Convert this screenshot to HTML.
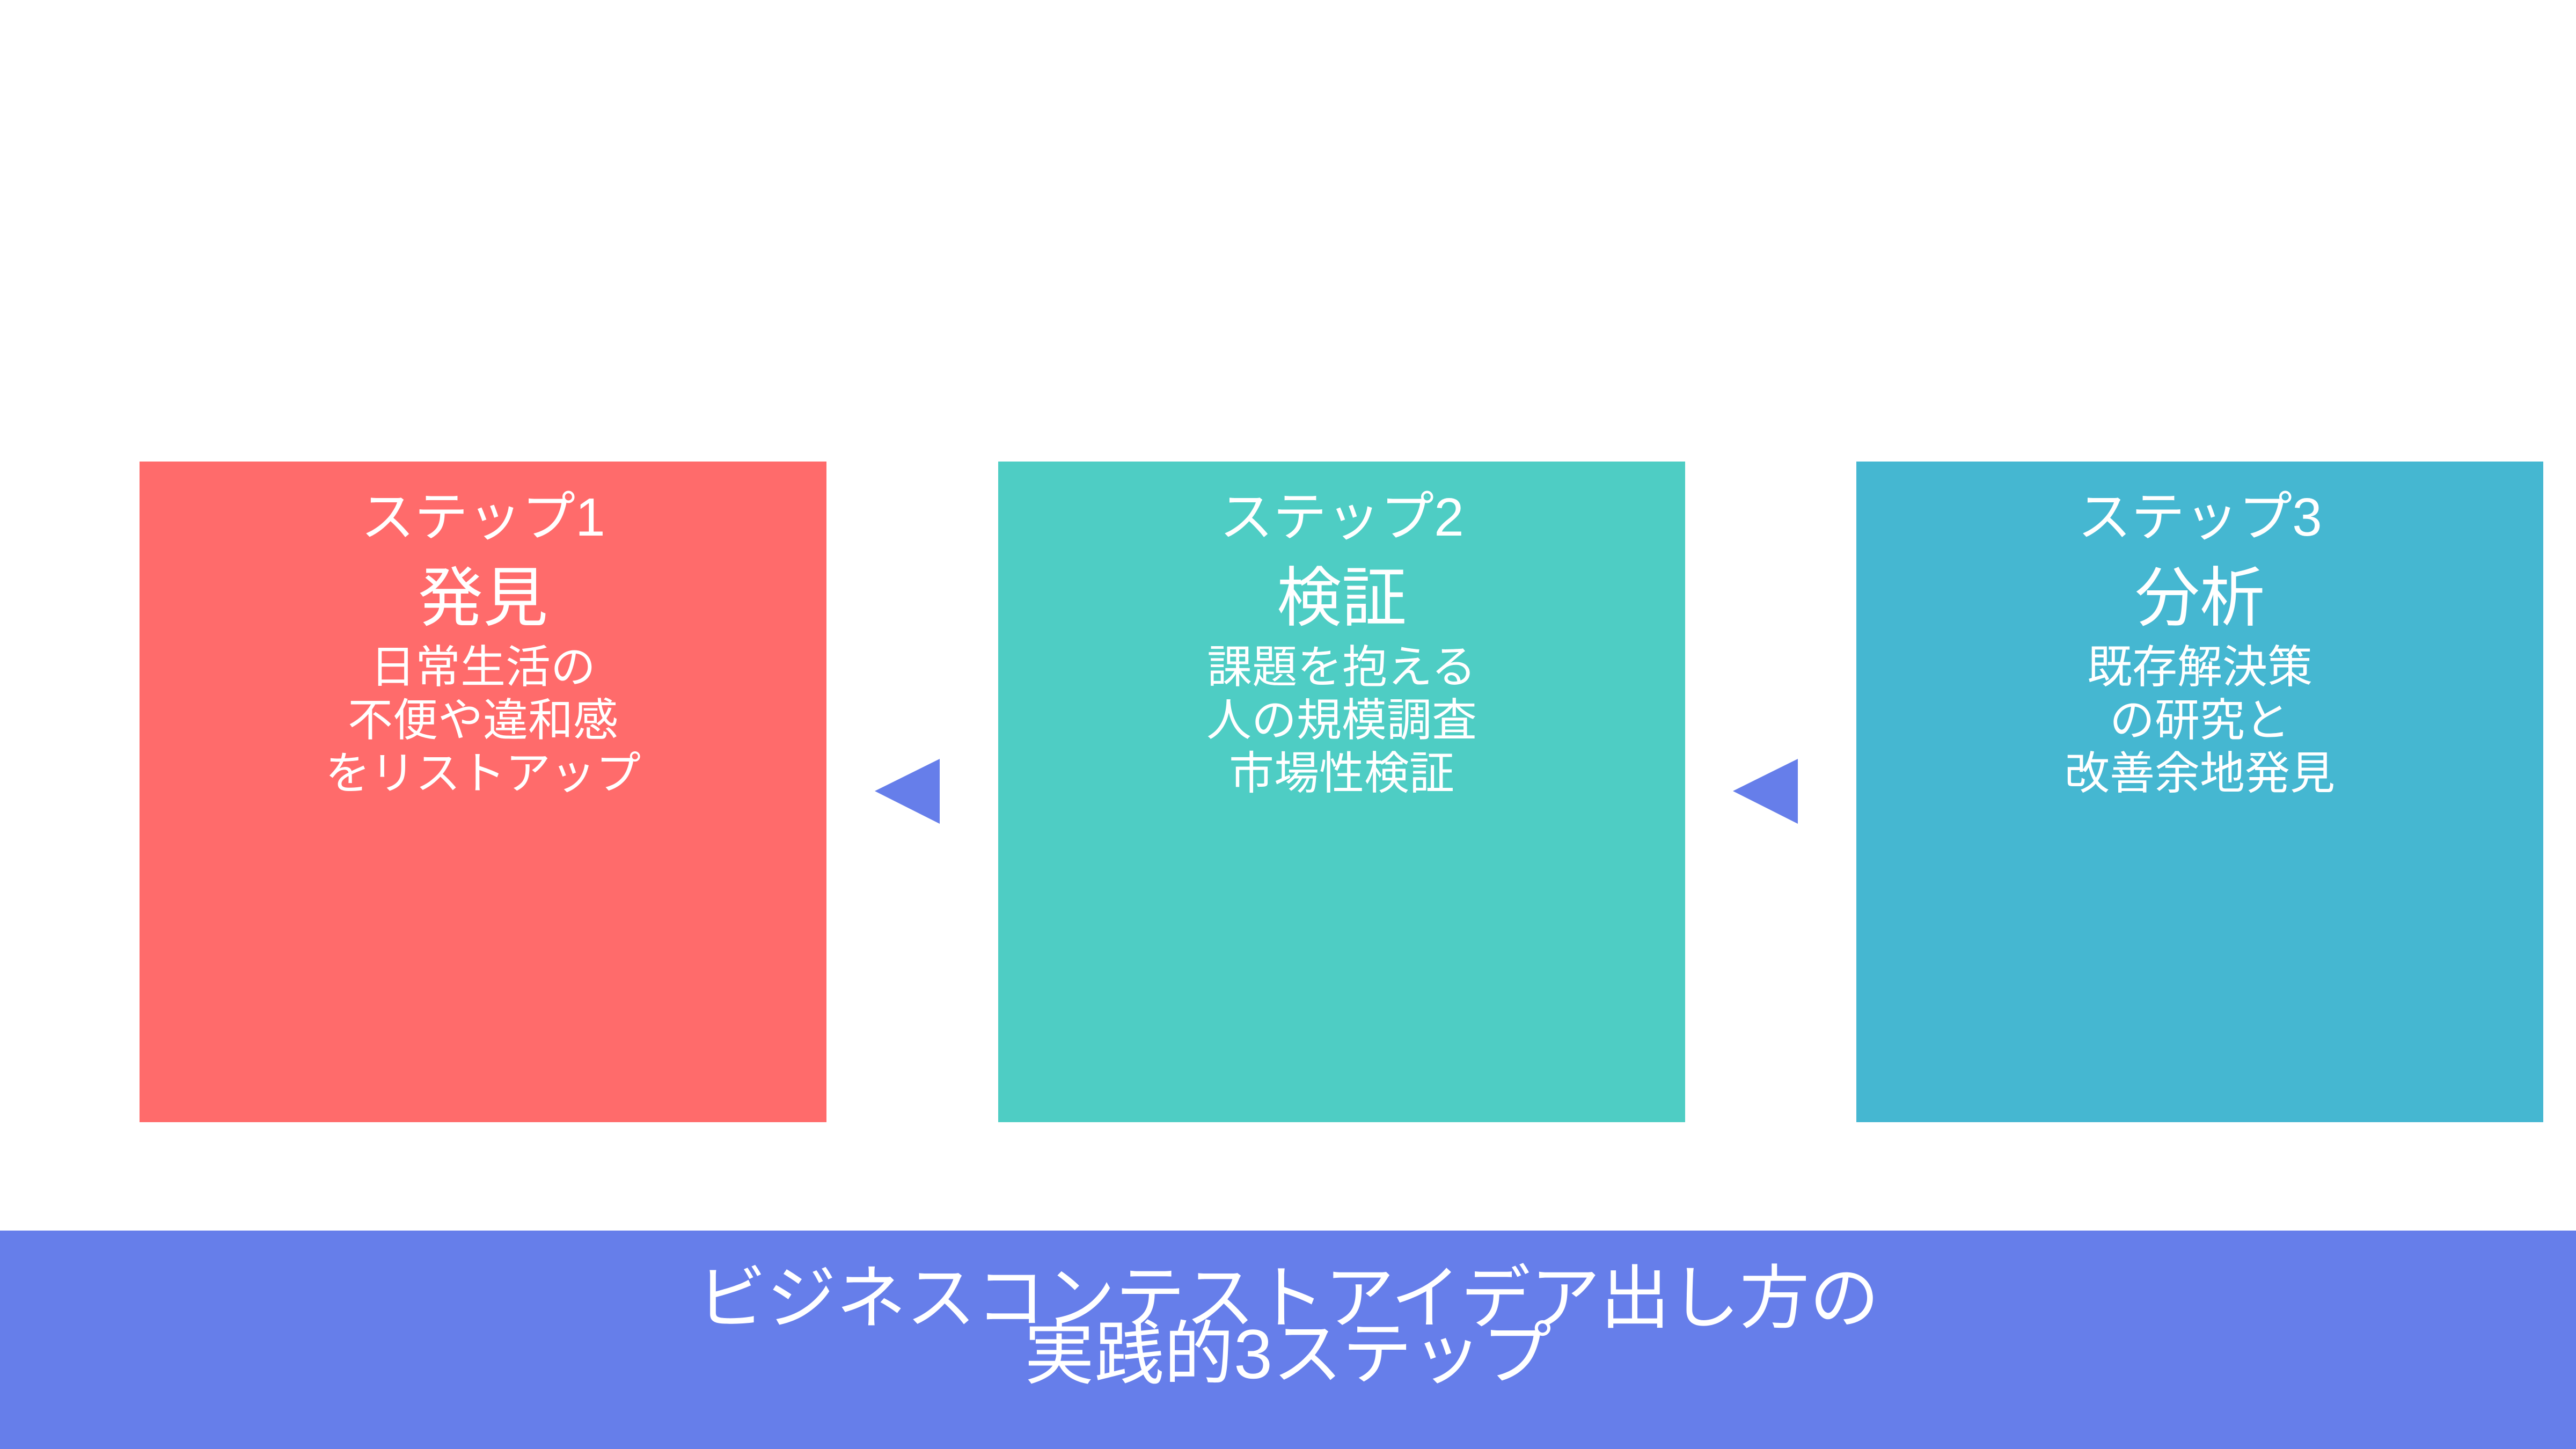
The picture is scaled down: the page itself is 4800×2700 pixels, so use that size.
<!DOCTYPE html>
<html><head><meta charset="utf-8"><style>
html,body{margin:0;padding:0;}
body{width:4800px;height:2700px;position:relative;background:#fff;overflow:hidden;font-family:"Liberation Sans","Noto Sans CJK JP",sans-serif;color:#fff;}
.box{position:absolute;top:860px;width:1280px;height:1231px;text-align:center;}
.s{position:absolute;left:0;right:0;top:904px;font-size:100px;line-height:120px;}
.t{position:absolute;left:0;right:0;top:1044px;font-size:121px;line-height:140px;}
.b{position:absolute;left:0;right:0;top:1194px;font-size:84px;line-height:99px;}
.bar{position:absolute;left:0;top:2293px;width:4800px;height:407px;background:#667EEA;}
</style></head><body>
<div class="box" style="left:260px;background:#FF6B6B"></div>
<div class="box" style="left:1860px;background:#4ECDC4"></div>
<div class="box" style="left:3459px;background:#45B7D1"></div>

<div style="position:absolute;left:260px;width:1280px;text-align:center;">
<div class="s">ステップ1</div><div class="t">発見</div><div class="b">日常生活の<br>不便や違和感<br>をリストアップ</div></div>
<div style="position:absolute;left:1860px;width:1280px;text-align:center;">
<div class="s">ステップ2</div><div class="t">検証</div><div class="b">課題を抱える<br>人の規模調査<br>市場性検証</div></div>
<div style="position:absolute;left:3459px;width:1280px;text-align:center;">
<div class="s">ステップ3</div><div class="t">分析</div><div class="b">既存解決策<br>の研究と<br>改善余地発見</div></div>

<svg style="position:absolute;left:0;top:0" width="4800" height="2700">
<polygon points="1630,1474 1751,1414 1751,1535" fill="#667EEA"/>
<polygon points="3229,1474 3350,1414 3350,1535" fill="#667EEA"/>
</svg>

<div class="bar"></div>
<div style="position:absolute;left:0;width:4800px;top:2367px;text-align:center;font-size:130px;line-height:104px;">ビジネスコンテストアイデア出し方の<br>実践的3ステップ</div>
</body></html>
